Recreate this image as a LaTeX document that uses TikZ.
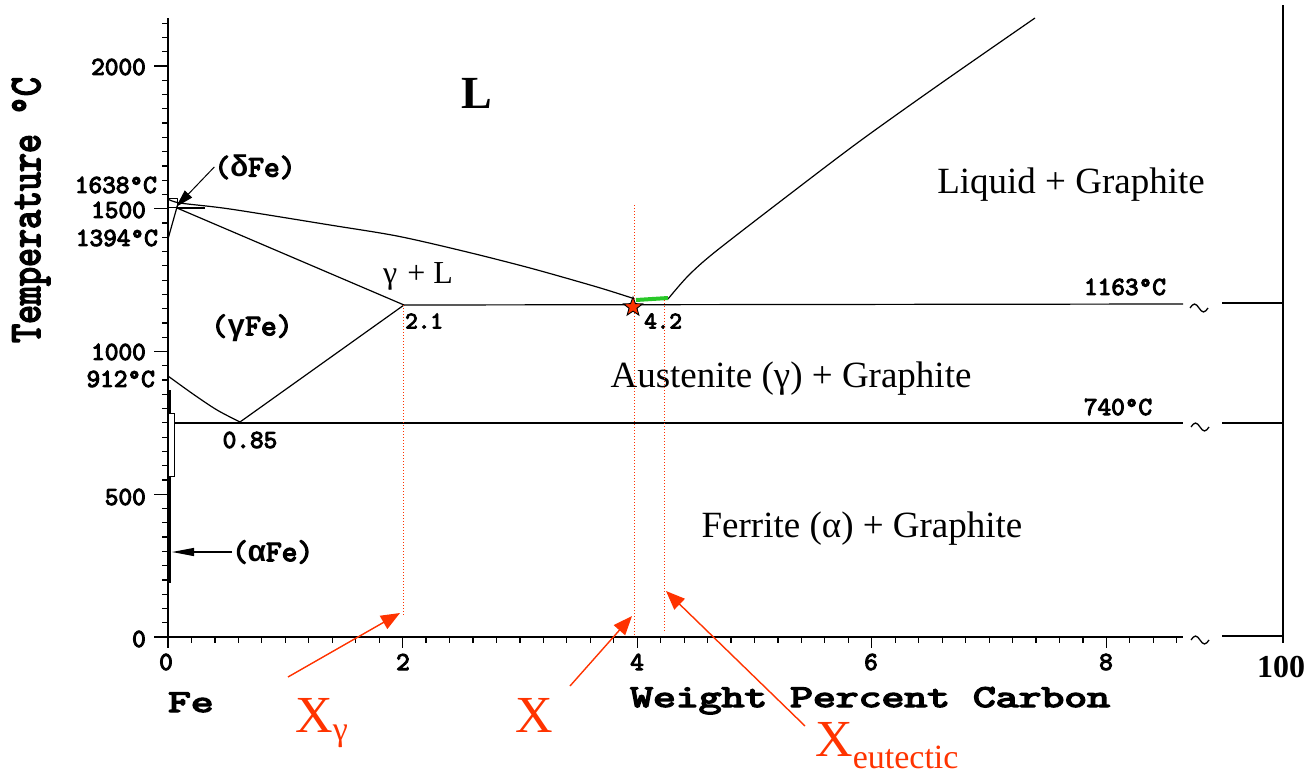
\documentclass[tikz,border=0pt]{standalone}
\usepackage{fontspec}
\usepackage{graphicx}
\setmainfont{Liberation Serif}
\newfontfamily\grkmono{Liberation Mono}
\newfontfamily\pixfont{lmmono10-regular}[Extension=.otf, FakeBold=4]
\usetikzlibrary{shapes.geometric,arrows.meta}
\definecolor{xred}{RGB}{255,51,0}
\definecolor{eugreen}{RGB}{40,200,40}
\newcommand{\fsz}[1]{\fontsize{#1}{#1}\selectfont}
\newcommand{\gk}[1]{{\grkmono\bfseries #1}}
\begin{document}
\begin{tikzpicture}[x=1pt,y=-1pt,
  pix/.style={font=\pixfont\bfseries\fsz{26}, inner sep=0pt},
  pixbig/.style={font=\pixfont\bfseries\fsz{30}, inner sep=0pt},
  pixsmall/.style={font=\pixfont\bfseries\fsz{24}, inner sep=0pt},
  pixtitle/.style={font=\pixfont\bfseries\fsz{32}, inner sep=0pt},
  serif/.style={font=\fsz{37}, inner sep=0pt},
  phase/.style={line width=1.2pt, black, line join=round},
  axisline/.style={line width=1.6pt, black},
  tick/.style={line width=1.2pt, black},
  redlab/.style={text=xred, inner sep=0pt},
  redarrow/.style={xred, line width=1.4pt, -{Triangle[length=19pt,width=15pt]}},
  guide/.style={xred, line width=1pt, dotted},
  brk/.style={line width=1.3pt, black},
]
\useasboundingbox (0,0) rectangle (1307,774);

% axes
\draw[axisline] (168,18) -- (168,648);
\draw[axisline] (155,637) -- (1183,637);
\foreach \t in {0,50,...,2150} \draw[tick] (162,{637-\t*0.2855}) -- (168,{637-\t*0.2855});
\foreach \t in {0,500,...,2000} \draw[tick] (154,{637-\t*0.2855}) -- (168,{637-\t*0.2855});
\foreach \i in {0,...,43} \draw[tick] ({168+\i*23.46},637) -- ++(0,6);
\foreach \i in {0,2,4,6,8} \draw[tick] ({168+\i*117.3},637) -- ++(0,11);

% y tick labels
\node[pix, anchor=east] (t2000) at (146,67) {2000};
\node[pix, anchor=east] (t1500) at (146,210) {1500};
\node[pix, anchor=east] (t1000) at (146,352) {1000};
\node[pix, anchor=east] (t500) at (146,497) {500};
\node[pix, anchor=east] (t0) at (146,639) {0};
\node[pix, anchor=east] (t1538) at (157,185) {1638°C};
\node[pix, anchor=east] (t1394) at (158,238) {1394°C};
\node[pix, anchor=east] (t912) at (155,379) {912°C};
% x tick labels
\node[pix] (x0) at (166,662) {0};
\node[pix] (x2) at (403,662) {2};
\node[pix] (x4) at (637,662) {4};
\node[pix] (x6) at (871,662) {6};
\node[pix] (x8) at (1106,662) {8};
% axis titles
\node[pixtitle, anchor=base west] (fe) at (168,712) {\scalebox{1.35}[1]{Fe}};
\node[pixtitle, anchor=base west] (xtitle) at (630,707) {\scalebox{1.36}[1]{Weight Percent Carbon}};
\node[pixtitle, rotate=90] (ytitle) at (31,210) {\scalebox{1.13}[1.4]{Temperature °C}};

% phase boundaries
\draw[phase] plot[smooth] coordinates {(168,199) (180,203) (230,209) (330,225) (397,236) (463,251) (530,268) (597,287) (632,298)};
\draw[phase] plot[smooth] coordinates {(668,299) (688,276) (715,252) (790,194) (860,141) (940,84) (1035,18)};
\draw[phase] (177,208) -- (404,305);
\draw[phase] (404,305) -- (1183,304);
\draw[phase] (404,305) -- (240,422);
\draw[phase] plot[smooth] coordinates {(168,376) (193,394) (217,410) (240,422)};
\draw[phase] (173,423) -- (1183,423);
\draw[phase] (168,239) -- (177,207);
\draw[phase] (176,208) -- (205,208);
\draw[phase, line width=0.9pt] (168,198) rectangle (177,207);
\draw[line width=3pt] (169.5,390) -- (169.5,583);
\draw[line width=0.9pt, fill=white] (168,413) rectangle (174,476);
\draw[eugreen, line width=4pt] (636,300) -- (668,298);

% phase labels (pixel font)
\node[pixbig] (delta) at (255,167) {(\gk{δ}Fe)};
\node[pixbig] (gamma) at (252,328) {(\gk{γ}Fe)};
\node[pixbig, anchor=west] (alpha) at (232,552) {(\gk{α}Fe)};
\node[pix] (e085) at (250,440) {0.85};
\node[pixsmall, anchor=west] (e21) at (405,321) {2.1};
\node[pixsmall, anchor=west] (e42) at (644,321) {4.2};
\node[pix] (t1163) at (1125,287) {1163°C};
\node[pix] (t740) at (1118,407) {740°C};
\coordinate (dtip) at (176,207);
\coordinate (atip) at (172,552);
\draw[line width=1pt, -{Triangle[length=18pt,width=10pt]}] (delta.west) -- (dtip);
\draw[line width=1.2pt, -{Triangle[length=22pt,width=8pt]}] (alpha.west) -- (atip);

% region labels (serif)
\node[inner sep=0pt, anchor=base, font=\bfseries\fsz{46}] (liq) at (477,108) {L};
\node[serif, anchor=base] (lg) at (1071,193) {Liquid + Graphite};
\node[serif, anchor=base] (ag) at (791,387) {Austenite (γ) + Graphite};
\node[serif, anchor=base] (fg) at (862,537) {Ferrite (α) + Graphite};
\node[inner sep=0pt, anchor=base, font=\fsz{32}] (gl) at (418,283) {γ\hskip 10pt+\hskip 8pt L};

% right broken axis
\draw[brk] (1283,5) -- (1283,643);
\draw[brk] (1222,303) -- (1283,303);
\draw[brk] (1222,423) -- (1283,423);
\draw[brk] (1222,636) -- (1283,636);
\draw[brk] (1190,308) sin (1194.5,304) cos (1199,308) sin (1203.5,312) cos (1208,308);
\draw[brk] (1191,427) sin (1195.5,423) cos (1200,427) sin (1204.5,431) cos (1209,427);
\draw[brk] (1191,640) sin (1195.5,636) cos (1200,640) sin (1204.5,644) cos (1209,640);
\node[inner sep=0pt, font=\bfseries\fsz{32}] (hundred) at (1281,667) {100};

% red guides
\coordinate (g1t) at (403,305); \coordinate (g1b) at (403,615);
\coordinate (g2t) at (634,205); \coordinate (g2b) at (634,637);
\coordinate (g3t) at (664,300); \coordinate (g3b) at (664,632);
\draw[guide] (g1t) -- (g1b);
\draw[guide] (g2t) -- (g2b);
\draw[guide] (g3t) -- (g3b);
\node[star, star points=5, star point ratio=2.4, fill=xred, draw=black, line width=0.9pt, minimum size=20pt, inner sep=0pt] (eut) at (633,307) {};

% red labels and arrows
\node[redlab, anchor=base west, font=\fsz{52}] (xg) at (295,732) {X\raisebox{-8pt}{\fsz{34}γ}};
\node[redlab, anchor=base west, font=\fsz{52}] (xx) at (515,732) {X};
\node[redlab, anchor=base west, font=\fsz{52}] (xe) at (815,756) {X\raisebox{-12pt}{\fsz{34}eutectic}};
\coordinate (a1s) at (288,677); \coordinate (a1e) at (400,613);
\coordinate (a2s) at (570,686); \coordinate (a2e) at (632,616);
\coordinate (a3s) at (805,726); \coordinate (a3e) at (666,591);
\draw[redarrow] (a1s) -- (a1e);
\draw[redarrow] (a2s) -- (a2e);
\draw[redarrow] (a3s) -- (a3e);
\end{tikzpicture}
\end{document}
